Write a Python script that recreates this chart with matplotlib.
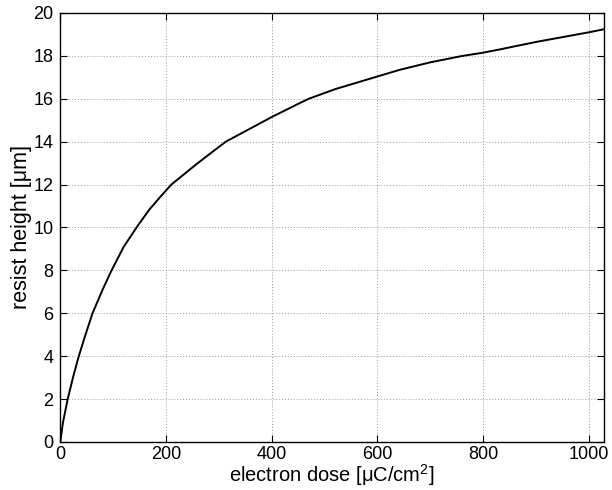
import matplotlib
matplotlib.use("Agg")
import matplotlib.pyplot as plt
import numpy as np

plt.rcParams['font.family'] = ['Liberation Sans', 'DejaVu Sans']
plt.rcParams['mathtext.fontset'] = 'custom'
plt.rcParams['mathtext.rm'] = 'Liberation Sans'
plt.rcParams['mathtext.it'] = 'Liberation Sans'

dose = [0, 5, 14, 25, 35, 47, 61, 80, 97, 120, 147, 169, 190, 210, 260, 313,
        400, 453, 470, 520, 600, 642, 700, 761, 800, 831, 900, 1000, 1028]
height = [0, 0.9, 2.0, 3.1, 4.0, 4.95, 6.0, 7.1, 8.0, 9.1, 10.1, 10.85, 11.45, 12.0,
          13.0, 14.0, 15.15, 15.8, 16.0, 16.45, 17.04, 17.35, 17.7, 18.0, 18.15,
          18.3, 18.65, 19.1, 19.24]
xticks = [0, 200, 400, 600, 800, 1000]
yticks = [0, 2, 4, 6, 8, 10, 12, 14, 16, 18, 20]

fig = plt.figure(figsize=(6.12, 4.9), dpi=100)
ax = fig.add_axes([0.0985, 0.098, 0.888, 0.8755])
ax.plot(dose, height, color='black', lw=1.4)
ax.set_xlim(0, 1028)
ax.set_ylim(0, 20)
ax.set_xticks(xticks)
ax.set_yticks(yticks)
ax.grid(True, color='#999999', linestyle=(0, (1, 2)), linewidth=0.7)
ax.tick_params(direction='in', top=True, right=True, labelsize=13, length=5)
ax.tick_params(axis='x', pad=3)
ax.tick_params(axis='y', pad=5)
for s in ax.spines.values():
    s.set_linewidth(1.0)
ax.set_xlabel('electron dose [μC/cm$^{2}$]', fontsize=14.5, labelpad=-1)
ax.set_ylabel('resist height [μm]', fontsize=15.5, labelpad=1)
fig.savefig('out.png', dpi=100)
